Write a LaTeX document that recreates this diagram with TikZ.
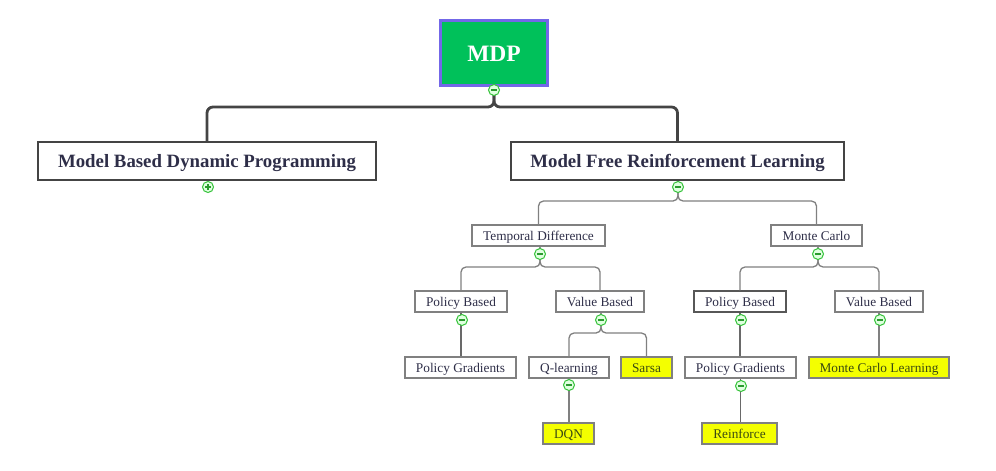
\documentclass[tikz,border=0pt]{standalone}
\usepackage{fontspec}
\setmainfont{Liberation Serif}
\newfontfamily\lserif{Liberation Serif}
\definecolor{txt}{HTML}{2E2E48}
\definecolor{leaftxt}{HTML}{3A4A12}
\definecolor{yel}{HTML}{F4FF00}
\definecolor{mdpgreen}{HTML}{00C15A}
\definecolor{mdpborder}{HTML}{7367E8}
\definecolor{dk}{HTML}{444444}
\definecolor{gr}{HTML}{808080}
\definecolor{cgreen}{HTML}{35C23A}
\begin{document}
\begin{tikzpicture}[x=1pt,y=-1pt,
  bigbox/.style={draw=dk, line width=2pt, fill=white, text=txt, font=\lserif\fontsize{18.8}{20}\selectfont\bfseries, minimum height=38, inner sep=0pt, text height=13pt, text depth=1pt},
  smallbox/.style={draw=gr, line width=1.3pt, fill=white, text=txt, font=\lserif\fontsize{13.3}{15}\selectfont, minimum height=21, inner sep=0pt, text height=9.5pt, text depth=0.5pt},
  leafbox/.style={smallbox, fill=yel, text=leaftxt},
  thickconn/.style={draw=dk, line width=2.8pt, rounded corners=6pt},
  thinconn/.style={draw=gr, line width=1.3pt, rounded corners=5pt},
  minuscirc/.style={circle, draw=cgreen, line width=1pt, fill=green!12, minimum size=11, inner sep=0pt,
    path picture={\draw[cgreen!80!black, line width=1.6pt] ([xshift=-3pt]path picture bounding box.center) -- ([xshift=3pt]path picture bounding box.center);}},
  pluscirc/.style={circle, draw=cgreen, line width=1pt, fill=green!12, minimum size=11, inner sep=0pt,
    path picture={\draw[cgreen!80!black, line width=1.4pt] ([xshift=-3pt]path picture bounding box.center) -- ([xshift=3pt]path picture bounding box.center) ([yshift=-3pt]path picture bounding box.center) -- ([yshift=3pt]path picture bounding box.center);}}
]
\useasboundingbox[fill=white] (0,0) rectangle (996,471);

% nodes
\node[draw=mdpborder, line width=3pt, fill=mdpgreen, text=white, font=\lserif\fontsize{23.5}{25}\selectfont\bfseries,
      minimum width=107, minimum height=65, inner sep=0pt, text height=17pt, text depth=0pt] (mdp) at (494,53) {MDP};
\node[bigbox, minimum width=338] (mb) at (207,161) {Model Based Dynamic Programming};
\node[bigbox, minimum width=333] (mf) at (677.5,161) {Model Free Reinforcement Learning};

\node[smallbox, minimum width=133] (td) at (538.5,235.5) {Temporal Difference};
\node[smallbox, minimum width=91] (mc) at (816.5,235.5) {Monte Carlo};

\node[smallbox, minimum width=92] (pb1) at (461,301.5) {Policy Based};
\node[smallbox, minimum width=88] (vb1) at (600,301.5) {Value Based};
\node[smallbox, minimum width=111] (pg1) at (460.5,367.5) {Policy Gradients};
\node[smallbox, minimum width=80] (ql) at (569,367.5) {Q-learning};
\node[leafbox, minimum width=51] (sa) at (646.5,367.5) {Sarsa};
\node[leafbox, minimum width=51] (dqn) at (568.5,433.5) {DQN};

\node[smallbox, draw=dk!90, minimum width=92] (pb2) at (740,301.5) {Policy Based};
\node[smallbox, minimum width=88] (vb2) at (879,301.5) {Value Based};
\node[smallbox, minimum width=111] (pg2) at (740.5,367.5) {Policy Gradients};
\node[leafbox, minimum width=140] (mcl) at (879,367.5) {Monte Carlo Learning};
\node[leafbox, minimum width=75] (rf) at (739.5,433.5) {Reinforce};

% connectors
\path[thickconn] (mdp.south) -- (mdp.south |- 0,107) -- (mb.north |- 0,107) -- (mb.north);
\path[thickconn] (mdp.south) -- (mdp.south |- 0,107) -- (mf.north |- 0,107) -- (mf.north);

\coordinate (j2) at (678,201);
\path[thinconn] (mf.south -| j2) -- (j2) -- (td.north |- j2) -- (td.north);
\path[thinconn] (mf.south -| j2) -- (j2) -- (mc.north |- j2) -- (mc.north);

\coordinate (j3) at (540,267);
\path[thinconn] (td.south -| j3) -- (j3) -- (pb1.north |- j3) -- (pb1.north);
\path[thinconn] (td.south -| j3) -- (j3) -- (vb1.north |- j3) -- (vb1.north);

\coordinate (j4) at (818,267);
\path[thinconn] (mc.south -| j4) -- (j4) -- (pb2.north |- j4) -- (pb2.north);
\path[thinconn] (mc.south -| j4) -- (j4) -- (vb2.north |- j4) -- (vb2.north);

\coordinate (j6) at (601,333);
\path[thinconn] (vb1.south -| j6) -- (j6) -- (ql.north |- j6) -- (ql.north);
\path[thinconn] (vb1.south -| j6) -- (j6) -- (sa.north |- j6) -- (sa.north);

\path[thinconn, draw=dk!80] (pb1.south) -- (pg1.north -| pb1.south);
\path[thinconn] (ql.south) -- (dqn.north -| ql.south);
\path[thinconn, draw=dk!80] (pb2.south) -- (pg2.north -| pb2.south);
\path[thinconn] (vb2.south) -- (mcl.north -| vb2.south);
\path[thinconn, draw=dk!80] (pg2.south) -- (rf.north -| pg2.south);

% collapse markers
\node[minuscirc] (c0) at (494,90) {};
\node[pluscirc] (c1) at (208,187) {};
\node[minuscirc] (c2) at (678,187) {};
\node[minuscirc] (c3) at (540,254) {};
\node[minuscirc] (c4) at (818,254) {};
\node[minuscirc] (c5) at (462,320) {};
\node[minuscirc] (c6) at (601,320) {};
\node[minuscirc] (c7) at (569,385) {};
\node[minuscirc] (c8) at (741,320) {};
\node[minuscirc] (c9) at (880,320) {};
\node[minuscirc] (c10) at (741,386) {};
\end{tikzpicture}
\end{document}
